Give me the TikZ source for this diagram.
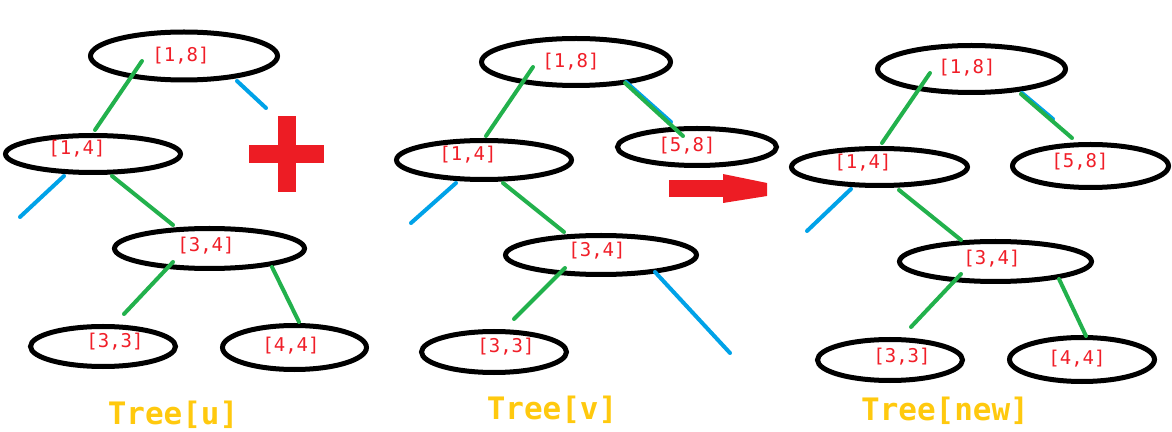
\documentclass[tikz,border=0pt]{standalone}
\usepackage{fontspec}
\setmonofont{DejaVu Sans Mono}
\usetikzlibrary{shapes.geometric}
\definecolor{pgreen}{RGB}{34,177,76}
\definecolor{pblue}{RGB}{0,162,232}
\definecolor{pred}{RGB}{237,28,36}
\definecolor{pyellow}{RGB}{255,201,14}
\definecolor{ptext}{RGB}{240,30,40}
\tikzset{
  ell/.style={draw=black, line width=0.125cm, ellipse, inner sep=0pt, minimum width=#1},
  lbl/.style={text=ptext, font=\ttfamily\fontsize{13.5}{15}\selectfont, inner sep=0pt},
  ttl/.style={text=pyellow, font=\ttfamily\bfseries\fontsize{22}{26}\selectfont, inner sep=0pt},
  gline/.style={draw=pgreen, line width=0.1cm, line cap=round},
  bline/.style={draw=pblue, line width=0.1cm, line cap=round},
  redshape/.style={fill=pred, draw=none}
}
\begin{document}
\begin{tikzpicture}[x=0.025cm,y=-0.025cm]
\useasboundingbox (0,0) rectangle (1172,432);
% ---------- Tree[u] ----------
\node[ell=187*0.025cm, minimum height=48*0.025cm] (u18) at (184,56) {};
\node[ell=175*0.025cm, minimum height=37*0.025cm] (u14) at (93,154) {};
\node[ell=190*0.025cm, minimum height=40*0.025cm] (u34) at (209.5,248.5) {};
\node[ell=145*0.025cm, minimum height=40*0.025cm] (u33) at (103,346.5) {};
\node[ell=144*0.025cm, minimum height=44*0.025cm] (u44) at (294.5,347.5) {};
\node[lbl] (tu18) at (181,56) {[1,8]};
\node[lbl] (tu14) at (77,149) {[1,4]};
\node[lbl] (tu34) at (206,246) {[3,4]};
\node[lbl] (tu33) at (115,342) {[3,3]};
\node[lbl] (tu44) at (291,346) {[4,4]};
\coordinate (ua1) at (142,61);  \coordinate (ua2) at (95,130);
\coordinate (ub1) at (237,81);  \coordinate (ub2) at (266,108);
\coordinate (uc1) at (64,176);  \coordinate (uc2) at (20,217);
\coordinate (ud1) at (112,176); \coordinate (ud2) at (173,225);
\coordinate (ue1) at (173,262); \coordinate (ue2) at (124,314);
\coordinate (uf1) at (272,267); \coordinate (uf2) at (299,322);
\draw[gline] (ua1) -- (ua2);
\draw[bline] (ub1) -- (ub2);
\draw[bline] (uc1) -- (uc2);
\draw[gline] (ud1) -- (ud2);
\draw[gline] (ue1) -- (ue2);
\draw[gline] (uf1) -- (uf2);
\node[ttl] (lu) at (173,415) {Tree[u]};
% plus sign
\fill[redshape] (278,116) rectangle (296,192);
\fill[redshape] (249,145) rectangle (324,163);
% ---------- Tree[v] ----------
\node[ell=189*0.025cm, minimum height=47*0.025cm] (v18) at (576,62) {};
\node[ell=159*0.025cm, minimum height=37*0.025cm] (v58) at (697,147) {};
\node[ell=175*0.025cm, minimum height=39*0.025cm] (v14) at (484,160) {};
\node[ell=191*0.025cm, minimum height=39*0.025cm] (v34) at (601,255) {};
\node[ell=145*0.025cm, minimum height=41*0.025cm] (v33) at (494,352) {};
\node[lbl] (tv18) at (571,62) {[1,8]};
\node[lbl] (tv58) at (687,146) {[5,8]};
\node[lbl] (tv14) at (468,155) {[1,4]};
\node[lbl] (tv34) at (597,251) {[3,4]};
\node[lbl] (tv33) at (506,347) {[3,3]};
\coordinate (va1) at (533,67);  \coordinate (va2) at (486,136);
\coordinate (vb1) at (625,83);  \coordinate (vb2) at (683,136);
\coordinate (vbb1) at (626,82); \coordinate (vbb2) at (671,122);
\coordinate (vc1) at (456,183); \coordinate (vc2) at (411,223);
\coordinate (vd1) at (503,183); \coordinate (vd2) at (564,232);
\coordinate (ve1) at (565,268); \coordinate (ve2) at (514,319);
\coordinate (vf1) at (655,272); \coordinate (vf2) at (730,353);
\draw[gline] (va1) -- (va2);
\draw[bline] (vbb1) -- (vbb2);
\draw[gline] (vb1) -- (vb2);
\draw[bline] (vc1) -- (vc2);
\draw[gline] (vd1) -- (vd2);
\draw[gline] (ve1) -- (ve2);
\draw[bline] (vf1) -- (vf2);
\node[ttl] (lv) at (552,410) {Tree[v]};
% arrow
\fill[redshape] (669,180) rectangle (724,197);
\fill[redshape] (723,174) -- (767,183) -- (767,196) -- (723,203) -- cycle;
% ---------- Tree[new] ----------
\node[ell=188*0.025cm, minimum height=47*0.025cm] (n18) at (971.5,69) {};
\node[ell=156*0.025cm, minimum height=43*0.025cm] (n58) at (1090.5,166) {};
\node[ell=176*0.025cm, minimum height=37*0.025cm] (n14) at (879.5,167) {};
\node[ell=192*0.025cm, minimum height=40*0.025cm] (n34) at (995.5,261.5) {};
\node[ell=145*0.025cm, minimum height=41*0.025cm] (n33) at (890,360) {};
\node[ell=145*0.025cm, minimum height=44*0.025cm] (n44) at (1082,359.5) {};
\node[lbl] (tn18) at (967,68) {[1,8]};
\node[lbl] (tn58) at (1080,162) {[5,8]};
\node[lbl] (tn14) at (863,163) {[1,4]};
\node[lbl] (tn34) at (992,259) {[3,4]};
\node[lbl] (tn33) at (902,357) {[3,3]};
\node[lbl] (tn44) at (1077,359) {[4,4]};
\coordinate (na1) at (930,73);   \coordinate (na2) at (882,143);
\coordinate (nb1) at (1021,94);  \coordinate (nb2) at (1072,138);
\coordinate (nbb1) at (1022,93); \coordinate (nbb2) at (1053,119);
\coordinate (nc1) at (851,189);  \coordinate (nc2) at (807,231);
\coordinate (nd1) at (899,190);  \coordinate (nd2) at (961,240);
\coordinate (ne1) at (961,274);  \coordinate (ne2) at (911,327);
\coordinate (nf1) at (1059,279); \coordinate (nf2) at (1086,336);
\draw[gline] (na1) -- (na2);
\draw[bline] (nbb1) -- (nbb2);
\draw[gline] (nb1) -- (nb2);
\draw[bline] (nc1) -- (nc2);
\draw[gline] (nd1) -- (nd2);
\draw[gline] (ne1) -- (ne2);
\draw[gline] (nf1) -- (nf2);
\node[ttl] (ln) at (945,411) {Tree[new]};
\end{tikzpicture}
\end{document}
